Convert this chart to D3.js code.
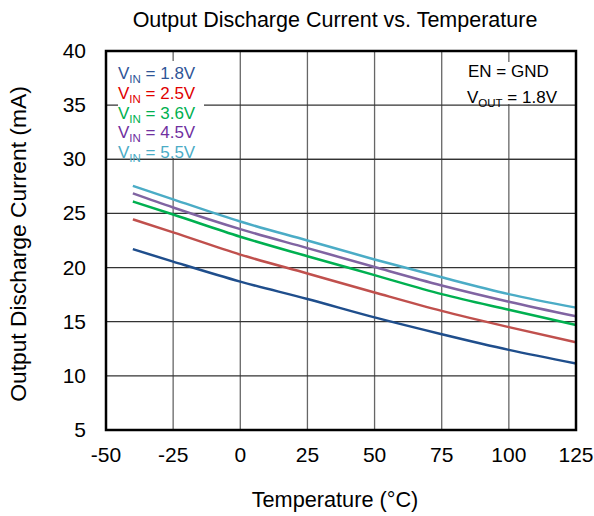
<!DOCTYPE html>
<meta charset="utf-8">
<style>
body { margin: 0; background: #fff; }
text { font-family: "Liberation Sans", Arial, sans-serif; fill: #000; }
</style>
<svg width="594" height="516"></svg>
<script src="https://d3js.org/d3.v7.min.js"></script>
<script>

var temps = [-40, -25, 0, 25, 50, 75, 100, 125];

var vin18 = [21.7, 20.55, 18.7, 17.1, 15.4, 13.85, 12.4, 11.15];
var vin25 = [24.45, 23.25, 21.2, 19.45, 17.7, 16.0, 14.5, 13.1];
var vin36 = [26.1, 24.9, 22.85, 21.05, 19.3, 17.55, 16.1, 14.7];
var vin45 = [26.85, 25.55, 23.55, 21.8, 20.05, 18.35, 16.85, 15.5];
var vin55 = [27.55, 26.3, 24.25, 22.5, 20.75, 19.1, 17.55, 16.3];

var seriesNames = ["1.8V", "2.5V", "3.6V", "4.5V", "5.5V"];
var seriesValues = [vin18, vin25, vin36, vin45, vin55];
var lineColors = ["#1f4e8c", "#c0504d", "#00b050", "#8064a2", "#4bacc6"];
var legendColors = ["#2f5597", "#e00000", "#00b050", "#7030a0", "#4bacc6"];

var xTicks = [-50, -25, 0, 25, 50, 75, 100, 125];
var yTicks = [5, 10, 15, 20, 25, 30, 35, 40];

var svg = d3.select("svg");
var plotL = 106, plotR = 576, plotT = 51, plotB = 430;

var x = d3.scaleLinear().domain([-50, 125]).range([plotL, plotR]);
var y = d3.scaleLinear().domain([5, 40]).range([plotB, plotT]);

// grid
svg.append("g").selectAll("line")
  .data(xTicks)
  .enter().append("line")
    .attr("x1", d => x(d)).attr("x2", d => x(d))
    .attr("y1", plotT).attr("y2", plotB)
    .style("stroke", "#666").style("stroke-width", 1.3);

svg.append("g").selectAll("line")
  .data(yTicks)
  .enter().append("line")
    .attr("x1", plotL).attr("x2", plotR)
    .attr("y1", d => y(d)).attr("y2", d => y(d))
    .style("stroke", "#333").style("stroke-width", 1.3);

// white boxes behind annotations
svg.append("rect").attr("x", 118).attr("y", 61).attr("width", 86).attr("height", 97).style("fill", "#fff");
svg.append("rect").attr("x", 465).attr("y", 62).attr("width", 92).attr("height", 42).style("fill", "#fff");
svg.append("line").attr("x1", plotL).attr("x2", plotR).attr("y1", y(30)).attr("y2", y(30))
  .style("stroke", "#333").style("stroke-width", 1.3);

// series
var line = d3.line()
  .x((d, i) => x(temps[i]))
  .y(d => y(d))
  .curve(d3.curveMonotoneX);

svg.append("g").selectAll("path")
  .data(seriesValues)
  .enter().append("path")
    .attr("d", d => line(d))
    .style("fill", "none")
    .style("stroke", (d, i) => lineColors[i])
    .style("stroke-width", 2.5);

// frame
svg.append("rect")
  .attr("x", plotL).attr("y", plotT)
  .attr("width", plotR - plotL).attr("height", plotB - plotT)
  .style("fill", "none").style("stroke", "#000").style("stroke-width", 2.5);

// tick labels
svg.append("g").selectAll("text")
  .data(xTicks)
  .enter().append("text")
    .attr("x", d => x(d)).attr("y", 462)
    .attr("text-anchor", "middle")
    .style("font-size", "21px")
    .text(d => d);

svg.append("g").selectAll("text")
  .data(yTicks)
  .enter().append("text")
    .attr("x", 86).attr("y", d => y(d) + 7)
    .attr("text-anchor", "end")
    .style("font-size", "21px")
    .text(d => d);

// titles
svg.append("text").attr("x", 335).attr("y", 27)
  .attr("text-anchor", "middle").style("font-size", "21.5px")
  .text("Output Discharge Current vs. Temperature");

svg.append("text").attr("x", 335).attr("y", 507)
  .attr("text-anchor", "middle").style("font-size", "21.7px")
  .text("Temperature (\u00b0C)");

svg.append("text")
  .attr("transform", "translate(26,244) rotate(-90)")
  .attr("text-anchor", "middle").style("font-size", "22.8px")
  .text("Output Discharge Current (mA)");

// legend
var leg = svg.append("g").selectAll("text")
  .data(seriesNames)
  .enter().append("text")
    .attr("x", 118).attr("y", (d, i) => 79 + i * 19.8)
    .style("font-size", "17px");
leg.append("tspan").text("V").style("fill", (d, i) => legendColors[i]);
leg.append("tspan").attr("dy", 4).style("font-size", "11.5px").text("IN").style("fill", (d, i) => legendColors[i]);
leg.append("tspan").attr("dy", -4).text(d => " = " + d).style("fill", (d, i) => legendColors[i]);

svg.append("text").attr("x", 468).attr("y", 77).style("font-size", "17px").text("EN = GND");
var vout = svg.append("text").attr("x", 467).attr("y", 103).style("font-size", "17px");
vout.append("tspan").text("V");
vout.append("tspan").attr("dy", 4).style("font-size", "11.5px").text("OUT");
vout.append("tspan").attr("dy", -4).text(" = 1.8V");

</script>
